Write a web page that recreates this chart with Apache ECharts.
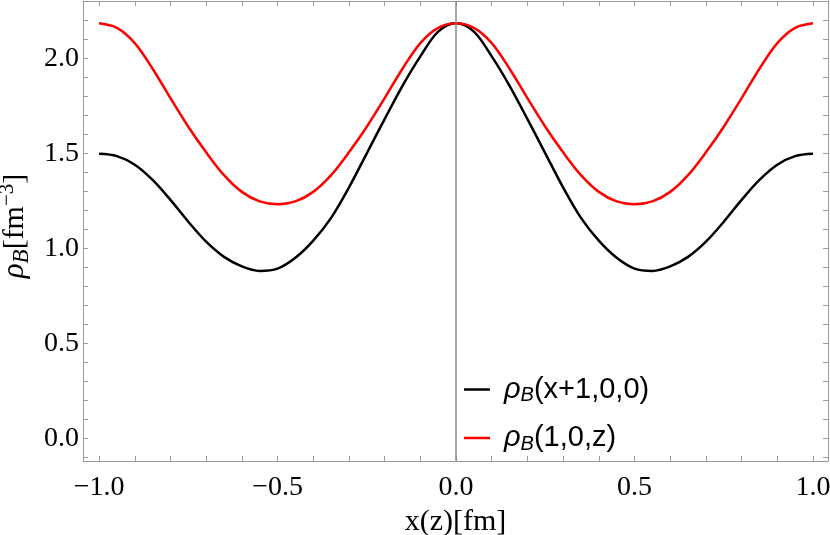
<!DOCTYPE html>
<html>
<head>
<meta charset="utf-8">
<script src="https://cdn.jsdelivr.net/npm/echarts@6/dist/echarts.min.js"></script>
<style>
  html, body { margin: 0; padding: 0; background: #fff; }
  #chart { width: 830px; height: 535px; }
</style>
</head>
<body>
<div id="chart"></div>
<script>
// x(z) in fm, every 0.05
const xs = [-1.0, -0.95, -0.9, -0.85, -0.8, -0.75, -0.7, -0.65, -0.6, -0.55, -0.5,
  -0.45, -0.4, -0.35, -0.3, -0.25, -0.2, -0.15, -0.1, -0.05, 0.0,
  0.05, 0.1, 0.15, 0.2, 0.25, 0.3, 0.35, 0.4, 0.45, 0.5,
  0.55, 0.6, 0.65, 0.7, 0.75, 0.8, 0.85, 0.9, 0.95, 1.0]
// rho_B(x+1,0,0)  (black)
const rhoX = [1.497, 1.485, 1.44, 1.36, 1.255, 1.14, 1.035, 0.955, 0.905, 0.881, 0.893,
  0.95, 1.04, 1.16, 1.32, 1.5, 1.68, 1.855, 2.01, 2.14, 2.184,
  2.14, 2.01, 1.855, 1.68, 1.5, 1.32, 1.16, 1.04, 0.95, 0.893,
  0.881, 0.905, 0.955, 1.035, 1.14, 1.255, 1.36, 1.44, 1.485, 1.497]
// rho_B(1,0,z)  (red)
const rhoZ = [2.184, 2.16, 2.08, 1.945, 1.79, 1.64, 1.505, 1.385, 1.297, 1.247, 1.232,
  1.247, 1.297, 1.385, 1.505, 1.64, 1.79, 1.945, 2.08, 2.16, 2.184,
  2.16, 2.08, 1.945, 1.79, 1.64, 1.505, 1.385, 1.297, 1.247, 1.232,
  1.247, 1.297, 1.385, 1.505, 1.64, 1.79, 1.945, 2.08, 2.16, 2.184]
const xLabels = [-1.0, -0.5, 0.0, 0.5, 1.0]
const xTicks = [-1.0, -0.9, -0.8, -0.7, -0.6, -0.5, -0.4, -0.3, -0.2, -0.1, 0.0,
  0.1, 0.2, 0.3, 0.4, 0.5, 0.6, 0.7, 0.8, 0.9, 1.0]
const yLabels = [0.0, 0.5, 1.0, 1.5, 2.0]
const yTicks = [-0.1, 0.0, 0.1, 0.2, 0.3, 0.4, 0.5, 0.6, 0.7, 0.8, 0.9, 1.0,
  1.1, 1.2, 1.3, 1.4, 1.5, 1.6, 1.7, 1.8, 1.9, 2.0, 2.1, 2.2]
const names = ['ρB(x+1,0,0)', 'ρB(1,0,z)']

const frame = '#9a9a9a'
const serif = 'Liberation Serif'
const sans = 'Liberation Sans'

function fmt (v) {
  return v < 0 ? '−' + Math.abs(v).toFixed(1) : v.toFixed(1)
}

function axisBase (show) {
  return {
    type: 'value',
    axisLine: { show: true, onZero: false, lineStyle: { color: frame, width: 1 } },
    axisTick: { show: true, inside: true, length: 5, lineStyle: { color: frame, width: 1 } },
    splitLine: { show: false },
    axisLabel: { show: show }
  }
}

let myChart = echarts.init(document.getElementById('chart'))

const bottomX = axisBase(true)
Object.assign(bottomX, { position: 'bottom', min: -1.045, max: 1.042 })
bottomX.axisTick.customValues = xTicks
bottomX.axisLabel = {
  show: true, customValues: xLabels, formatter: fmt, margin: 13,
  fontFamily: serif, fontSize: 28, color: '#000'
}
bottomX.name = 'x(z)[fm]'
bottomX.nameLocation = 'middle'
bottomX.nameGap = 46
bottomX.nameTextStyle = { fontFamily: serif, fontSize: 30, color: '#000', verticalAlign: 'top' }

const topX = axisBase(false)
Object.assign(topX, { position: 'top', min: -1.045, max: 1.042 })
topX.axisTick.customValues = xTicks

const leftY = axisBase(true)
Object.assign(leftY, { position: 'left', min: -0.1195, max: 2.3016 })
leftY.axisTick.customValues = yTicks
leftY.axisLabel = {
  show: true, customValues: yLabels, formatter: fmt, margin: 4,
  fontFamily: serif, fontSize: 28, color: '#000'
}
leftY.name = '{i|ρ}{sub|B}{n|[fm}{sup|−3}{n|]}'
leftY.nameLocation = 'middle'
leftY.nameRotate = 90
leftY.nameGap = 47
leftY.nameTextStyle = {
  padding: [0, 0, 0, 10],
  rich: {
    i: { fontFamily: serif, fontSize: 31, fontStyle: 'italic', color: '#000', lineHeight: 36 },
    n: { fontFamily: serif, fontSize: 30, color: '#000', lineHeight: 36 },
    sub: { fontFamily: serif, fontSize: 23, fontStyle: 'italic', color: '#000', lineHeight: 26, verticalAlign: 'bottom' },
    sup: { fontFamily: serif, fontSize: 21, color: '#000', lineHeight: 24, verticalAlign: 'top' }
  }
}

const rightY = axisBase(false)
Object.assign(rightY, { position: 'right', min: -0.1195, max: 2.3016 })
rightY.axisTick.customValues = yTicks

myChart.setOption({
  animation: false,
  grid: { left: 83, right: 2, top: 1, bottom: 74, outerBoundsMode: 'none', containLabel: false },
  xAxis: [bottomX, topX],
  yAxis: [leftY, rightY],
  legend: {
    data: names,
    orient: 'vertical',
    left: 459,
    top: 370,
    itemGap: 18,
    itemWidth: 26,
    itemHeight: 2.5,
    icon: 'rect',
    formatter: function (name) {
      return name === names[0] ? '{r|ρ}{s|B}{t|(x+1,0,0)}' : '{r|ρ}{s|B}{t|(1,0,z)}'
    },
    textStyle: {
      padding: [0, 0, 0, 9],
      rich: {
        r: { fontFamily: sans, fontSize: 29, fontStyle: 'italic', color: '#000', lineHeight: 32 },
        s: { fontFamily: sans, fontSize: 20, fontStyle: 'italic', color: '#000', lineHeight: 22, verticalAlign: 'bottom' },
        t: { fontFamily: sans, fontSize: 29, color: '#000', lineHeight: 32 }
      }
    }
  },
  series: [
    {
      name: names[0],
      type: 'line',
      data: xs.map((x, i) => [x, rhoX[i]]),
      smooth: 0.33,
      showSymbol: false,
      color: '#000000',
      lineStyle: { width: 2.5, color: '#000000' },
      z: 3,
      markLine: {
        silent: true,
        symbol: 'none',
        label: { show: false },
        lineStyle: { color: '#8a8a8a', width: 1.5, type: 'solid' },
        data: [{ xAxis: 0 }]
      }
    },
    {
      name: names[1],
      type: 'line',
      data: xs.map((x, i) => [x, rhoZ[i]]),
      smooth: 0.33,
      showSymbol: false,
      color: '#ff0000',
      lineStyle: { width: 2.5, color: '#ff0000' },
      z: 4
    }
  ]
})
</script>
</body>
</html>
